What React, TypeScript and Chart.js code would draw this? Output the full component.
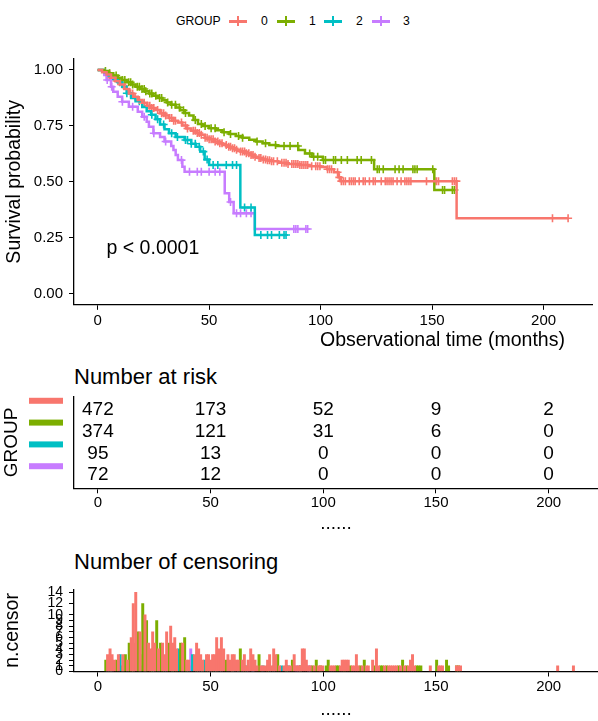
import React, { useEffect, useRef } from "react";
import { Chart, registerables } from "chart.js";

Chart.register(...registerables);

const FONT = '"Liberation Sans", Arial, Helvetica, sans-serif';
Chart.defaults.font.family = FONT;

// ---------------- data ----------------
const GROUP_TITLE = "GROUP";
const GROUP_LABELS = ["0", "1", "2", "3"];
const GROUP_COLORS = ["#F8766D", "#7CAE00", "#00BFC4", "#C77CFF"];

const X_TICKS = [0, 50, 100, 150, 200];
const SURV_TICKS = [0, 0.25, 0.5, 0.75, 1];
const CENSOR_Y_TICKS = [0, 1, 2, 3, 4, 5, 6, 7, 8, 9, 10, 12, 14];

// Kaplan-Meier step points (time, survival after the drop)
const KM_TIME_G0 = [0, 2, 4, 6, 8, 10, 12, 14, 16, 18, 20, 22, 24, 26, 28, 30, 32, 34, 36, 38, 40, 42, 44, 46, 48, 50, 52, 54, 56, 58, 60, 62, 64, 66, 68, 70, 72, 74, 76, 78, 81, 85, 90, 95, 100, 103, 106, 108, 109, 161];
const KM_SURV_G0 = [1, 0.99, 0.98, 0.965, 0.95, 0.935, 0.915, 0.895, 0.88, 0.866, 0.853, 0.84, 0.83, 0.821, 0.806, 0.797, 0.785, 0.773, 0.765, 0.752, 0.738, 0.728, 0.718, 0.71, 0.697, 0.69, 0.68, 0.672, 0.664, 0.657, 0.65, 0.643, 0.636, 0.628, 0.62, 0.612, 0.606, 0.6, 0.596, 0.592, 0.585, 0.58, 0.575, 0.57, 0.566, 0.556, 0.543, 0.52, 0.503, 0.337];

const KM_TIME_G1 = [0, 3, 5, 7, 9, 11, 13, 15, 17, 19, 21, 23, 25, 27, 29, 31, 33, 35, 37, 39, 41, 43, 45, 47, 50, 53, 56, 59, 62, 65, 68, 71, 74, 77, 80, 90, 93, 96, 101, 124, 151];
const KM_SURV_G1 = [1, 0.995, 0.985, 0.975, 0.965, 0.955, 0.945, 0.935, 0.925, 0.915, 0.905, 0.895, 0.885, 0.875, 0.865, 0.855, 0.845, 0.832, 0.82, 0.808, 0.796, 0.776, 0.758, 0.75, 0.74, 0.73, 0.722, 0.714, 0.705, 0.697, 0.688, 0.68, 0.672, 0.665, 0.66, 0.642, 0.627, 0.612, 0.597, 0.556, 0.463];

const KM_TIME_G2 = [0, 3, 5, 7, 9, 11, 13, 15, 17, 20, 22, 24, 26, 28, 30, 32, 35, 39, 42, 44, 46, 48, 50, 64, 70.5];
const KM_SURV_G2 = [1, 0.99, 0.975, 0.96, 0.945, 0.925, 0.896, 0.875, 0.86, 0.835, 0.815, 0.8, 0.78, 0.756, 0.735, 0.717, 0.7, 0.687, 0.67, 0.657, 0.635, 0.6, 0.575, 0.385, 0.262];

const KM_TIME_G3 = [0, 3, 4, 6, 7, 9, 11, 14, 18, 20, 22, 23, 25, 28, 30, 33, 34, 35, 36, 38, 39, 57, 59, 61, 70.5];
const KM_SURV_G3 = [1, 0.978, 0.955, 0.925, 0.903, 0.88, 0.858, 0.836, 0.813, 0.791, 0.768, 0.746, 0.717, 0.7, 0.68, 0.66, 0.642, 0.62, 0.597, 0.567, 0.545, 0.449, 0.41, 0.359, 0.289];

// censoring: [time (months), number censored]
const CENSOR_G0: [number, number][] = [[4.3,3],[5.4,4],[6.3,3],[7.3,2],[9.1,3],[11.1,3],[13.1,2],[14.8,6],[15.7,12],[16.8,14],[18.7,7],[20.9,10],[22.5,5],[23.4,4],[24.3,7],[25.2,5],[26.9,4],[28.7,5],[29.6,3],[30.5,7],[32.3,8],[33.2,5],[34.1,6],[34.9,4],[37.6,5],[39.4,2],[40.3,2],[42.9,3],[43.8,5],[44.7,4],[45.6,3],[46.5,2],[48.2,3],[49.1,3],[50,2],[50.9,3],[51.8,3],[52.7,6],[53.9,4],[54.8,6],[55.8,4],[57.7,3],[58.8,2],[59.6,3],[60.5,3],[61.4,2],[62.3,2],[64.1,2],[65,3],[65.9,1],[66.7,2],[67.8,4],[68.8,3],[69.7,2],[70.6,1],[72.4,1],[73.2,1],[74.3,1],[75.3,2],[76.2,3],[77.1,1],[78,4],[78.9,3],[80.6,1],[82.6,1],[83.6,2],[84.5,1],[85.4,1],[87.1,3],[88,1],[88.9,1],[89.8,1],[90.7,4],[91.6,4],[92.5,2],[93.4,1],[94.2,1],[96,1],[97.8,1],[98.7,1],[99.7,1],[103.1,1],[104,1],[104.9,1],[107.6,1],[108.4,2],[109.3,2],[110.2,2],[111.1,2],[112.9,1],[113.8,1],[114.7,3],[115.5,1],[117.3,1],[119.1,1],[120,1],[121.9,2],[123.6,4],[124.5,1],[127.2,1],[129,1],[129.8,1],[130.7,1],[131.6,1],[132.5,1],[134.3,1],[136.1,1],[137.8,1],[138.7,2],[139.6,3],[140.5,1],[147.5,1],[151.2,1],[152,1],[152.9,1],[159.1,1],[160,1],[160.9,1],[204,1],[211,1]];
const CENSOR_G1: [number, number][] = [[3.5,2],[5.4,2],[8.3,2],[11.1,1],[12.2,3],[13.9,5],[14.8,4],[15.7,5],[17.8,7],[18.7,3],[19.9,12],[20.9,4],[21.6,9],[23.4,3],[24.3,4],[26.1,9],[27.8,5],[28.7,3],[31.4,5],[33.2,3],[34.9,2],[36.7,5],[38.5,6],[39.4,1],[43.8,2],[46.5,1],[48.2,2],[50.9,1],[52.7,2],[56.7,2],[59.6,1],[63.2,4],[65,1],[71.5,3],[75.3,1],[79.8,3],[83.6,1],[86.3,2],[89.8,1],[95.1,1],[96.9,2],[98.7,1],[101.3,1],[102.2,2],[105.8,1],[106.7,1],[109.3,1],[112,1],[116.4,1],[118.2,2],[122.8,1],[125.4,1],[126.3,1],[128.1,1],[133.4,1],[135.2,2],[137,1],[141.4,1],[142.3,1],[143.3,1],[150.3,2],[154.7,2],[155.6,1],[159.1,1],[160,1]];
const CENSOR_G2: [number, number][] = [[5.4,1],[9.9,3],[13.1,1],[18.7,1],[24.3,1],[26.9,1],[29.6,1],[33.2,1],[35.8,4],[39.4,1],[40.3,1],[42,3],[43.8,1],[45.6,1],[47.4,2],[49.1,1],[51.8,1],[53.9,1],[57.7,1],[60.5,1],[62.3,1],[65.9,1],[68.8,1],[73.2,1],[76.2,1],[78,1],[81.5,1],[83.6,1],[84.5,1]];
const CENSOR_G3: [number, number][] = [[4.3,1],[6.3,1],[11.1,1],[15.7,1],[20.9,1],[25.2,1],[30.5,1],[37.6,1],[41.2,4],[44.7,1],[46.5,1],[50,1],[52.7,1],[54.8,1],[59.6,1],[62.3,1],[64.1,1],[66.7,1],[68.8,1],[88,1],[88.9,1],[89.8,1],[93.4,1],[94.2,1]];

// number at risk
const RISK_TIMES = [0, 50, 100, 150, 200];
const RISK_G0 = [472, 173, 52, 9, 2];
const RISK_G1 = [374, 121, 31, 6, 0];
const RISK_G2 = [95, 13, 0, 0, 0];
const RISK_G3 = [72, 12, 0, 0, 0];

const P_VALUE_TEXT = "p < 0.0001";
const P_VALUE_AT = { x: 4, y: 0.2 };

// ---------------- helpers ----------------
const KM_TIMES = [KM_TIME_G0, KM_TIME_G1, KM_TIME_G2, KM_TIME_G3];
const KM_SURVS = [KM_SURV_G0, KM_SURV_G1, KM_SURV_G2, KM_SURV_G3];
const CENSORS = [CENSOR_G0, CENSOR_G1, CENSOR_G2, CENSOR_G3];
const RISKS = [RISK_G0, RISK_G1, RISK_G2, RISK_G3];

const X_MIN = -10.6;
const X_MAX = 221.9;

function survivalAt(times: number[], surv: number[], t: number) {
  let s = surv[0];
  for (let i = 0; i < times.length; i++) if (times[i] <= t) s = surv[i];
  return s;
}

function xAxis(tickPad: number, height: number, title?: any) {
  return {
    type: "linear",
    min: X_MIN,
    max: X_MAX,
    offset: false,
    afterBuildTicks: (s: any) => { s.ticks = X_TICKS.map((v) => ({ value: v })); },
    afterFit: (s: any) => { s.height = height; },
    grid: { display: true, offset: false, drawOnChartArea: false, drawTicks: true, tickLength: 5, color: "#000", lineWidth: 1 },
    border: { display: true, color: "#000", width: 1.3 },
    ticks: { color: "#000", font: { size: 15, family: FONT }, padding: tickPad, autoSkip: false, maxRotation: 0, callback: (v: any) => String(v) },
    title: title || { display: false },
  };
}

function yTitle(text: string, size: number, pad: number) {
  return { display: true, text, color: "#000", font: { size, family: FONT }, padding: { top: pad, bottom: 0 } };
}

const dotsTitle = (padBottom: number) => ({ display: true, text: "......", color: "#000", font: { size: 19, family: FONT }, padding: { top: 0, bottom: padBottom } });

// ---------------- plugins ----------------
const pValuePlugin = {
  id: "pValue",
  afterDatasetsDraw(chart: any) {
    const { ctx, scales } = chart;
    ctx.save();
    ctx.font = `19.5px ${FONT}`;
    ctx.fillStyle = "#000";
    ctx.textAlign = "left";
    ctx.textBaseline = "middle";
    ctx.fillText(P_VALUE_TEXT, scales.x.getPixelForValue(P_VALUE_AT.x), scales.y.getPixelForValue(P_VALUE_AT.y));
    ctx.restore();
  },
};

const riskPlugin = {
  id: "riskTable",
  afterDatasetsDraw(chart: any) {
    const { ctx } = chart;
    ctx.save();
    ctx.font = `19px ${FONT}`;
    ctx.fillStyle = "#000";
    ctx.textAlign = "center";
    ctx.textBaseline = "middle";
    RISKS.forEach((row, i) => {
      const meta = chart.getDatasetMeta(i);
      meta.data.forEach((el: any, j: number) => ctx.fillText(String(row[j]), el.x, el.y));
    });
    const y = chart.scales.y;
    GROUP_COLORS.forEach((c, i) => {
      ctx.fillStyle = c;
      ctx.fillRect(29, y.getPixelForValue(i) - 12, 34, 6);
    });
    ctx.restore();
  },
};

// ---------------- component ----------------
const LEGEND_KEY_X = [229, 277, 324, 372];
const LEGEND_TEXT_X = [261, 309, 356, 403];

export default function App() {
  const kmRef = useRef<HTMLCanvasElement>(null);
  const riskRef = useRef<HTMLCanvasElement>(null);
  const censRef = useRef<HTMLCanvasElement>(null);

  useEffect(() => {
    const charts: Chart[] = [];

    // ---- survival curves ----
    const lineSets = KM_TIMES.map((times, g) => {
      const surv = KM_SURVS[g];
      const pts = times.map((t, i) => ({ x: t, y: surv[i] }));
      const lastCens = Math.max(...CENSORS[g].map((c) => c[0]));
      if (lastCens > times[times.length - 1]) pts.push({ x: lastCens, y: surv[surv.length - 1] });
      return {
        label: GROUP_LABELS[g],
        data: pts,
        borderColor: GROUP_COLORS[g],
        borderWidth: 2.5,
        stepped: "before",
        pointRadius: 0,
        fill: false,
      };
    });
    const markSets = CENSORS.map((cens, g) => ({
      label: GROUP_LABELS[g] + " censored",
      data: cens.map(([t]) => ({ x: t, y: survivalAt(KM_TIMES[g], KM_SURVS[g], t) })),
      showLine: false,
      pointStyle: "cross",
      pointRadius: 4,
      pointBorderWidth: 1.6,
      pointBorderColor: GROUP_COLORS[g],
      borderColor: GROUP_COLORS[g],
    }));

    charts.push(
      new Chart(kmRef.current as HTMLCanvasElement, {
        type: "line",
        data: { datasets: [...lineSets, ...markSets] as any },
        options: {
          animation: false,
          responsive: false,
          layout: { padding: { top: 58.8, left: 0, right: 0, bottom: 0 } },
          plugins: { legend: { display: false }, tooltip: { enabled: false } },
          scales: {
            x: xAxis(2, 50.2) as any,
            y: {
              type: "linear",
              min: -0.05,
              max: 1.05,
              afterBuildTicks: (s: any) => { s.ticks = SURV_TICKS.map((v) => ({ value: v })); },
              afterFit: (s: any) => { s.width = 74; },
              grid: { display: true, drawOnChartArea: false, drawTicks: true, tickLength: 5, color: "#000", lineWidth: 1 },
              border: { display: true, color: "#000", width: 1.3 },
              ticks: { color: "#000", font: { size: 15, family: FONT }, padding: 6, callback: (v: any) => Number(v).toFixed(2) },
              title: yTitle("Survival probability", 19.5, 3.3),
            } as any,
          },
        },
        plugins: [pValuePlugin],
      })
    );

    // ---- number at risk ----
    charts.push(
      new Chart(riskRef.current as HTMLCanvasElement, {
        type: "line",
        data: {
          datasets: RISKS.map((row, g) => ({
            label: GROUP_LABELS[g],
            data: RISK_TIMES.map((t) => ({ x: t, y: g })),
            showLine: false,
            pointRadius: 0,
          })) as any,
        },
        options: {
          animation: false,
          responsive: false,
          layout: { padding: { top: 6.7, left: 0, right: 0, bottom: 0 } },
          plugins: { legend: { display: false }, tooltip: { enabled: false } },
          scales: {
            x: xAxis(1, 46.7, dotsTitle(0)) as any,
            y: {
              type: "linear",
              min: -0.6,
              max: 3.6,
              reverse: true,
              afterFit: (s: any) => { s.width = 74; },
              grid: { display: false },
              border: { display: true, color: "#000", width: 1.3 },
              ticks: { display: false },
              title: yTitle(GROUP_TITLE, 19, 0.6),
            } as any,
          },
        },
        plugins: [riskPlugin],
      })
    );

    // ---- number of censoring ----
    charts.push(
      new Chart(censRef.current as HTMLCanvasElement, {
        type: "bar",
        data: {
          datasets: CENSORS.map((cens, g) => ({
            label: GROUP_LABELS[g],
            data: cens.map(([t, n]) => ({ x: t, y: n })),
            backgroundColor: GROUP_COLORS[g],
            borderWidth: 0,
            grouped: false,
            barThickness: 2.3,
          })) as any,
        },
        options: {
          animation: false,
          responsive: false,
          layout: { padding: { top: 5, left: 0, right: 0, bottom: 0 } },
          plugins: { legend: { display: false }, tooltip: { enabled: false } },
          scales: {
            x: xAxis(1, 49.5, dotsTitle(0)) as any,
            y: {
              type: "linear",
              min: 0,
              max: 14.5,
              afterBuildTicks: (s: any) => { s.ticks = CENSOR_Y_TICKS.map((v) => ({ value: v })); },
              afterFit: (s: any) => { s.width = 74; },
              grid: { display: true, drawOnChartArea: false, drawTicks: true, tickLength: 5, color: "#000", lineWidth: 1 },
              border: { display: true, color: "#000", width: 1.3 },
              ticks: { color: "#000", font: { size: 14, family: FONT }, padding: 6, autoSkip: false, callback: (v: any) => String(v) },
              title: yTitle("n.censor", 19.5, 1.3),
            } as any,
          },
        },
      })
    );

    return () => charts.forEach((c) => c.destroy());
  }, []);

  const abs = (extra: any) => ({ position: "absolute" as const, whiteSpace: "nowrap" as const, ...extra });

  return (
    <div style={{ position: "absolute", left: 0, top: 0, width: 598, height: 721, background: "#fff", fontFamily: FONT, color: "#000", overflow: "hidden" }}>
      {/* legend */}
      <div style={abs({ left: 176, top: 14, fontSize: 12.2, lineHeight: "14px" })}>{GROUP_TITLE}</div>
      {GROUP_LABELS.map((lab, g) => (
        <React.Fragment key={lab}>
          <div style={abs({ left: LEGEND_KEY_X[g], top: 19.5, width: 18, height: 3, background: GROUP_COLORS[g] })} />
          <div style={abs({ left: LEGEND_KEY_X[g] + 8, top: 16, width: 2, height: 10, background: GROUP_COLORS[g] })} />
          <div style={abs({ left: LEGEND_TEXT_X[g], top: 14, fontSize: 12.2, lineHeight: "14px" })}>{lab}</div>
        </React.Fragment>
      ))}

      <canvas ref={kmRef} width={598} height={355} style={{ position: "absolute", left: 0, top: 0 }} />
      <div style={abs({ left: 320, top: 328, fontSize: 19.5, lineHeight: "23px" })}>Observational time (months)</div>

      <div style={abs({ left: 74, top: 363.5, fontSize: 22, lineHeight: "26px" })}>Number at risk</div>
      <canvas ref={riskRef} width={598} height={145} style={{ position: "absolute", left: 0, top: 390 }} />

      <div style={abs({ left: 74, top: 548.5, fontSize: 22, lineHeight: "26px" })}>Number of censoring</div>
      <canvas ref={censRef} width={598} height={146} style={{ position: "absolute", left: 0, top: 575 }} />
    </div>
  );
}
